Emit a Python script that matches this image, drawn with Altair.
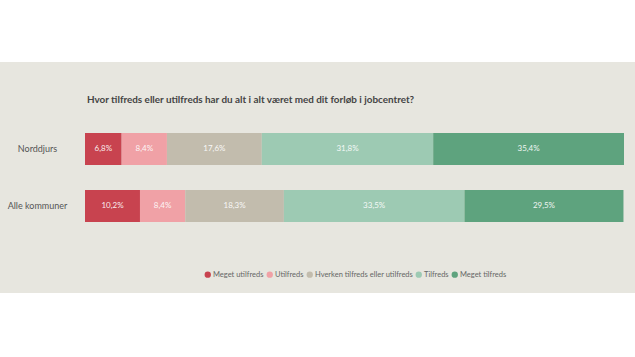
import altair as alt
import pandas as pd

groups = ["Norddjurs", "Alle kommuner"]
categories = ["Meget utilfreds", "Utilfreds", "Hverken tilfreds eller utilfreds", "Tilfreds", "Meget tilfreds"]
norddjurs = [6.8, 8.4, 17.6, 31.8, 35.4]
alle = [10.2, 8.4, 18.3, 33.5, 29.5]
colors = ["#c8434f", "#f0a1a6", "#c2bcad", "#9dcab3", "#5ea37e"]
title_text = "Hvor tilfreds eller utilfreds har du alt i alt været med dit forløb i jobcentret?"

rows = []
for g, vals in zip(groups, [norddjurs, alle]):
    for i, (c, v) in enumerate(zip(categories, vals)):
        rows.append({"group": g, "cat": c, "value": v, "order": i})
df = pd.DataFrame(rows)

FONT = "Lato"

base = alt.Chart(df).transform_stack(
    stack="value", groupby=["group"], as_=["x0", "x1"], sort=[alt.SortField("order")]
).transform_calculate(
    mid="(datum.x0 + datum.x1) / 2",
    label="replace(format(datum.value, '.1f'), '.', ',') + '%'",
)

yenc = alt.Y(
    "group:N",
    sort=groups,
    scale=alt.Scale(paddingInner=0.44, paddingOuter=0.22),
    axis=alt.Axis(
        title=None, domain=False, ticks=False, labelAlign="center", labelPadding=48,
        labelFont=FONT, labelFontSize=9, labelColor="#555555", zindex=2,
    ),
)

bars = base.mark_bar().encode(
    x=alt.X("x0:Q", scale=alt.Scale(domain=[0, 100]), axis=None),
    x2="x1:Q",
    y=yenc,
    color=alt.Color(
        "cat:N",
        scale=alt.Scale(domain=categories, range=colors),
        legend=alt.Legend(
            title=None, orient="none", legendX=119, legendY=150, direction="horizontal",
            columns=5, symbolType="circle", symbolSize=40, symbolStrokeWidth=0,
            labelFont=FONT, labelFontSize=7.5, labelColor="#666666",
            columnPadding=2, labelOffset=1.5, zindex=2,
        ),
    ),
)

text = base.mark_text(color="white", fontSize=8, font=FONT, opacity=0.9).encode(
    x=alt.X("mid:Q", scale=alt.Scale(domain=[0, 100])),
    y=alt.Y("group:N", sort=groups),
    text="label:N",
)

bg = alt.Chart(pd.DataFrame({"a": [0]})).mark_rect(color="#e7e6df").encode(
    x=alt.value(-85), x2=alt.value(550), y=alt.value(-58.5), y2=alt.value(172.5)
)

chart = alt.layer(bg, bars, text).properties(
    width=539,
    height=114,
    title=alt.TitleParams(
        title_text, anchor="start", frame="group", font=FONT, fontSize=9.9, fontWeight="bold",
        color="#444444", offset=-43, dx=2, zindex=2,
    ),
    autosize=alt.AutoSizeParams(type="none"),
    padding={"left": 85, "top": 120.5, "right": 11, "bottom": 122.5},
    background="white",
).configure_view(stroke=None)

chart.save("out.html", embed_options={"renderer": "svg", "actions": False})
